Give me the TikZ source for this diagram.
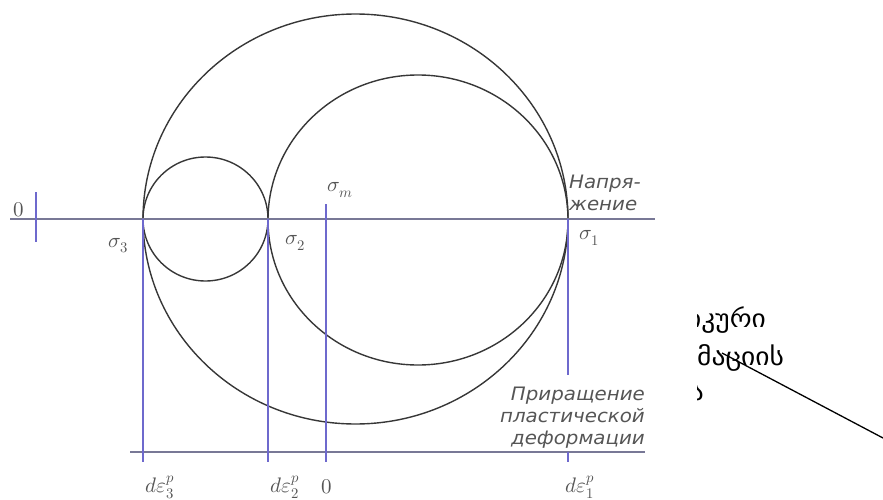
\documentclass[tikz,border=0pt]{standalone}
\usepackage{amsmath}
\usepackage{fontspec}
\usepackage{unicode-math}
\setmathfont{Latin Modern Math}
\newfontfamily\rusfont[FakeStretch=1.07]{DejaVu Sans}
\newfontfamily\geofont[Script=Georgian, FakeStretch=1.1]{DejaVu Sans}
\definecolor{axisgray}{RGB}{120,120,150}
\definecolor{vblue}{RGB}{110,105,205}
\definecolor{circgray}{RGB}{55,55,55}
\definecolor{labgray}{RGB}{85,85,85}
\tikzset{
  axisline/.style={axisgray, line width=1.2pt},
  vline/.style={vblue, line width=1.1pt},
  circ/.style={circgray, line width=1.4pt},
  lab/.style={labgray, inner sep=0pt, font=\fontsize{21}{25}\selectfont},
  rustext/.style={labgray, inner sep=0pt, align=right, font=\rusfont\itshape\fontsize{18.5}{22}\selectfont},
  geotext/.style={black, inner sep=0pt, font=\geofont\fontsize{25}{29}\selectfont}
}
\begin{document}
\begin{tikzpicture}[x=1pt,y=-1pt]
    \useasboundingbox (0,0) rectangle (883,500);
    \coordinate (axL) at (10,219);
    \coordinate (axR) at (655,219);
    \coordinate (tickT) at (36,192);
    \coordinate (tickB) at (36,242);
    \coordinate (s3) at (143,219);
    \coordinate (s2) at (268,219);
    \coordinate (sm) at (326,204);
    \coordinate (s1) at (568,219);
    \coordinate (s1end) at (568,375);
    \coordinate (e3) at (143,462);
    \coordinate (e2) at (268,462);
    \coordinate (e0) at (326,462);
    \coordinate (e1top) at (568,452);
    \coordinate (e1) at (568,462);
    \coordinate (bL) at (130,452);
    \coordinate (bR) at (645,452);
    \coordinate (cBig) at (355.5,219);
    \coordinate (cMid) at (418,220);
    \coordinate (cSmall) at (205.5,219);
    \draw[circ] (cBig) ellipse [x radius=212.5pt, y radius=205pt];
    \draw[circ] (cMid) ellipse [x radius=150pt, y radius=145pt];
    \draw[circ] (cSmall) ellipse [x radius=62.5pt, y radius=62pt];
    \draw[axisline] (axL) -- (axR);
    \draw[vline] (tickT) -- (tickB);
    \draw[axisline] (bL) -- (bR);
    \draw[vline] (s3) -- (e3);
    \draw[vline] (s2) -- (e2);
    \draw[vline] (sm) -- (e0);
    \draw[vline] (s1) -- (s1end);
    \draw[vline] (e1top) -- (e1);
    \node[lab] (zeroL) at (19,210) {$0$};
    \node[lab] (lab3) at (118,246) {$\sigma_3$};
    \node[lab] (lab2) at (295,243) {$\sigma_2$};
    \node[lab] (labm) at (340,190) {$\sigma_m$};
    \node[lab] (lab1) at (589,238) {$\sigma_1$};
    \node[lab] (de3) at (160,487) {$d\varepsilon_3^p$};
    \node[lab] (de2) at (285,487) {$d\varepsilon_2^p$};
    \node[lab] (zeroB) at (327,487) {$0$};
    \node[lab] (de1) at (580,487) {$d\varepsilon_1^p$};
    \node[rustext, anchor=south west, align=left] (napr) at (569,211) {Напря-\\жение};
    \node[rustext, anchor=south east] (prir) at (645,449) {Приращение\\пластической\\деформации};
    \begin{scope}
        \clip (697,290) rectangle (883,410);
        \node[geotext, anchor=base west] (geo1) at (687,327) {იკური};
        \node[geotext, anchor=base west] (geo2) at (697,365) {მაციის};
        \node[geotext, anchor=base east] (geo3) at (704,400) {ა};
    \end{scope}
    \coordinate (g0) at (722,353);
    \coordinate (g1) at (883,438);
    \draw[black, line width=1.3pt] (g0) -- (g1);
\end{tikzpicture}
\end{document}
